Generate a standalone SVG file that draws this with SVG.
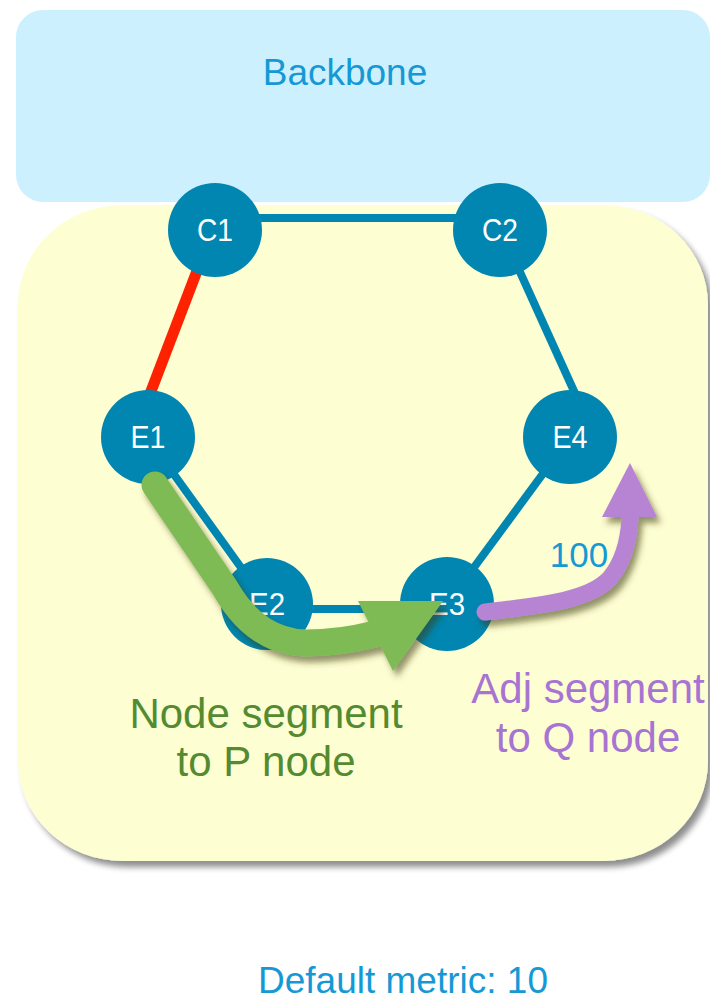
<svg xmlns="http://www.w3.org/2000/svg" width="710" height="1001" viewBox="0 0 710 1001">
  <style>
    .node circle { fill: #0086b1; }
    .node text { fill: #ffffff; font-family: "Liberation Sans", Arial, sans-serif; font-size: 31px; text-anchor: middle; }
    .link { stroke: #0086b1; stroke-width: 8; fill: none; }
    .label { font-family: "Liberation Sans", Arial, sans-serif; text-anchor: middle; }
  </style>
  <defs>
    <filter id="boxShadow" x="-5%" y="-5%" width="115%" height="115%">
      <feGaussianBlur in="SourceAlpha" stdDeviation="3"/>
      <feOffset dx="5" dy="6" result="b"/>
      <feComponentTransfer><feFuncA type="linear" slope="0.45"/></feComponentTransfer>
      <feMerge><feMergeNode/><feMergeNode in="SourceGraphic"/></feMerge>
    </filter>
    <filter id="arrowShadow" x="-20%" y="-20%" width="140%" height="140%">
      <feGaussianBlur in="SourceAlpha" stdDeviation="3"/>
      <feOffset dx="4" dy="6" result="b"/>
      <feFlood flood-color="#3a3a10" flood-opacity="0.55"/>
      <feComposite in2="b" operator="in"/>
      <feMerge><feMergeNode/><feMergeNode in="SourceGraphic"/></feMerge>
    </filter>
  </defs>

  <!-- regions -->
  <g id="backbone">
    <rect x="16" y="10" width="694" height="192" rx="27" ry="27" fill="#cdf0fe"/>
    <text class="label" x="345" y="85" font-size="37" fill="#1599d5">Backbone</text>
  </g>
  <g id="area">
    <rect x="18" y="205" width="690" height="656" rx="105" ry="100" fill="#fefed3" filter="url(#boxShadow)"/>
  </g>

  <!-- links -->
  <g id="links">
    <line class="link" x1="215" y1="218" x2="500" y2="218"/>
    <line x1="205" y1="250" x2="140" y2="420" stroke="#ff2200" stroke-width="11"/>
    <line class="link" x1="510" y1="250" x2="578" y2="400"/>
    <line class="link" x1="160" y1="455" x2="250" y2="580"/>
    <line class="link" x1="267" y1="609" x2="447" y2="609"/>
    <line class="link" x1="447" y1="604" x2="570" y2="437"/>
  </g>

  <!-- routers -->
  <g id="C1" class="node"><circle cx="215" cy="230" r="47"/><text x="215" y="241" textLength="36" lengthAdjust="spacingAndGlyphs">C1</text></g>
  <g id="C2" class="node"><circle cx="500" cy="230" r="47"/><text x="500" y="241" textLength="36" lengthAdjust="spacingAndGlyphs">C2</text></g>
  <g id="E1" class="node"><circle cx="148" cy="437" r="47"/><text x="148" y="448" textLength="35" lengthAdjust="spacingAndGlyphs">E1</text></g>
  <g id="E4" class="node"><circle cx="570" cy="437" r="47"/><text x="570" y="448" textLength="35" lengthAdjust="spacingAndGlyphs">E4</text></g>
  <g id="E2" class="node"><circle cx="267" cy="604" r="46"/><text x="267" y="615" textLength="36" lengthAdjust="spacingAndGlyphs">E2</text></g>
  <g id="E3" class="node"><circle cx="447" cy="604" r="47"/><text x="447" y="615" textLength="36" lengthAdjust="spacingAndGlyphs">E3</text></g>

  <!-- link metric -->
  <text class="label" x="579" y="567" font-size="35" fill="#1599d5">100</text>

  <!-- segment arrows -->
  <g id="node-segment" filter="url(#arrowShadow)">
    <path d="M155,485 L225,588 Q255,641 305,643 Q340,643 375,634" fill="none" stroke="#7fbb55" stroke-width="27" stroke-linecap="round"/>
    <polygon points="358,601 443,601 393,671" fill="#7fbb55"/>
  </g>
  <g id="adj-segment" filter="url(#arrowShadow)">
    <path d="M485,612 C545,605 590,600 610,578 Q628,556 630,518" fill="none" stroke="#b784d4" stroke-width="17" stroke-linecap="round"/>
    <polygon points="602,517 657,517 630,463" fill="#b784d4"/>
  </g>

  <!-- captions -->
  <g id="node-segment-label" class="label" font-size="42" fill="#538b30">
    <text x="266" y="728">Node segment</text>
    <text x="266" y="776">to P node</text>
  </g>
  <g id="adj-segment-label" class="label" font-size="42" fill="#a874d2">
    <text x="588" y="703">Adj segment</text>
    <text x="588" y="752">to Q node</text>
  </g>
  <text class="label" x="403" y="993" font-size="37" fill="#1599d5">Default metric: 10</text>
</svg>
